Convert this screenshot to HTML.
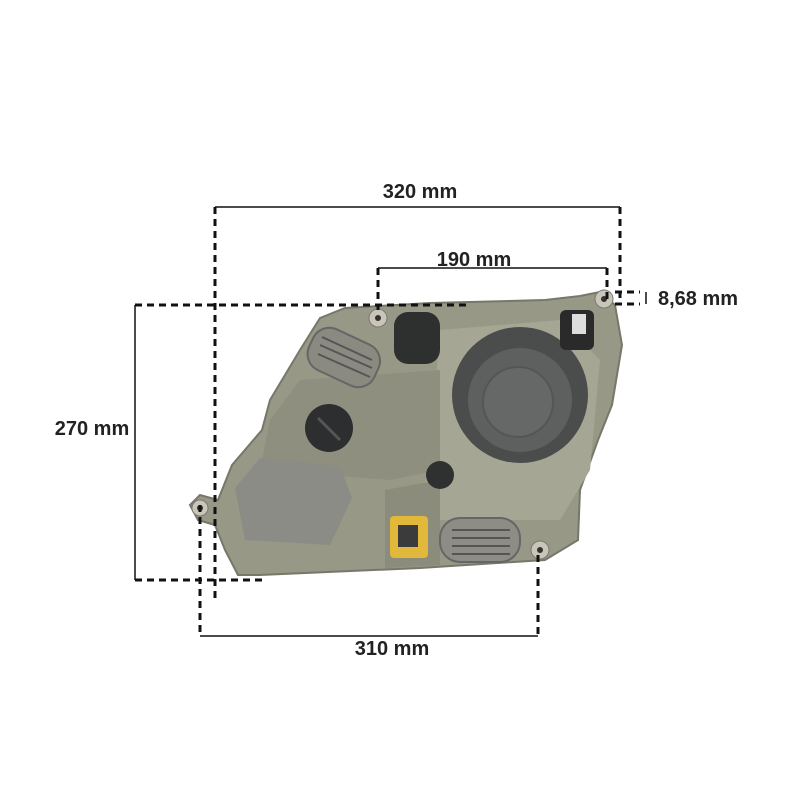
<!DOCTYPE html>
<html><head><style>
body{margin:0;background:#fff;width:800px;height:800px;overflow:hidden}
text{font-family:"Liberation Sans",sans-serif;font-weight:bold;font-size:20px;fill:#222}
</style></head><body>
<svg width="800" height="800" viewBox="0 0 800 800">
<polygon points="190,505 200,495 218,500 232,465 262,430 270,400 300,350 320,318 345,308 430,303 545,300 580,296 600,292 615,305 622,345 612,405 598,440 580,490 578,540 545,560 420,568 260,575 238,575 225,550 215,525 198,520" fill="#989886" stroke="#77776a" stroke-width="2"/>
<polygon points="440,330 560,320 600,360 590,470 560,520 420,520 430,450" fill="#a6a695"/>
<polygon points="270,420 300,380 440,370 440,470 390,480 260,470" fill="#8f8f7f"/>
<polygon points="385,490 440,480 440,565 385,568" fill="#8c8c7c"/>
<circle cx="520" cy="395" r="68" fill="#4b4d4d"/>
<circle cx="520" cy="400" r="52" fill="#5e6060"/>
<circle cx="518" cy="402" r="35" fill="#666868" stroke="#555" stroke-width="2"/>
<circle cx="329" cy="428" r="24" fill="#2c2e2f"/>
<path d="M318,418 L340,440" stroke="#555" stroke-width="3"/>
<rect x="394" y="312" width="46" height="52" rx="14" fill="#2e3030"/>
<rect x="560" y="310" width="34" height="40" rx="6" fill="#2a2a2a"/>
<rect x="572" y="314" width="14" height="20" fill="#ddd"/>
<circle cx="440" cy="475" r="14" fill="#2f3131"/>
<rect x="308" y="335" width="72" height="45" rx="18" transform="rotate(25 344 357)" fill="#8a8a80" stroke="#666" stroke-width="2"/>
<g stroke="#555" stroke-width="2"><line x1="320" y1="345" x2="372" y2="368"/><line x1="318" y1="354" x2="370" y2="377"/><line x1="322" y1="337" x2="372" y2="360"/></g>
<rect x="440" y="518" width="80" height="44" rx="20" fill="#8d8d85" stroke="#666" stroke-width="2"/>
<g stroke="#555" stroke-width="2"><line x1="452" y1="530" x2="510" y2="530"/><line x1="452" y1="538" x2="510" y2="538"/><line x1="452" y1="546" x2="510" y2="546"/><line x1="452" y1="554" x2="510" y2="554"/></g>
<polygon points="235,488 260,458 340,466 352,498 330,545 245,540" fill="#8c8c86"/>
<rect x="390" y="516" width="38" height="42" rx="4" fill="#e1b83a"/>
<rect x="398" y="525" width="20" height="22" fill="#3b3b3b"/>
<g fill="#c9c6b8" stroke="#777"><circle cx="378" cy="318" r="9"/><circle cx="604" cy="299" r="9"/><circle cx="540" cy="550" r="9"/><circle cx="200" cy="508" r="8"/></g>
<g fill="#333"><circle cx="378" cy="318" r="3"/><circle cx="604" cy="299" r="3"/><circle cx="540" cy="550" r="3"/><circle cx="200" cy="508" r="3"/></g>
<g stroke="#111" stroke-width="3" stroke-dasharray="7,5" fill="none">
<line x1="215" y1="207" x2="215" y2="600"/>
<line x1="620" y1="207" x2="620" y2="300"/>
<line x1="378" y1="268" x2="378" y2="310"/>
<line x1="607" y1="268" x2="607" y2="300"/>
<line x1="135" y1="305" x2="470" y2="305"/>
<line x1="135" y1="580" x2="262" y2="580"/>
<line x1="200" y1="505" x2="200" y2="636"/>
<line x1="538" y1="555" x2="538" y2="636"/>
<line x1="615" y1="292" x2="640" y2="292"/>
<line x1="615" y1="304" x2="640" y2="304"/>
</g>
<g stroke="#111" stroke-width="1.5">
<line x1="215" y1="207" x2="620" y2="207"/>
<line x1="378" y1="268" x2="607" y2="268"/>
<line x1="135" y1="305" x2="135" y2="580"/>
<line x1="200" y1="636" x2="538" y2="636"/>
<line x1="646" y1="292" x2="646" y2="304"/>
</g>
<text x="420" y="198" text-anchor="middle">320 mm</text>
<text x="474" y="266" text-anchor="middle">190 mm</text>
<text x="698" y="305" text-anchor="middle">8,68 mm</text>
<text x="92" y="435" text-anchor="middle">270 mm</text>
<text x="392" y="655" text-anchor="middle">310 mm</text>
</svg>
</body></html>
